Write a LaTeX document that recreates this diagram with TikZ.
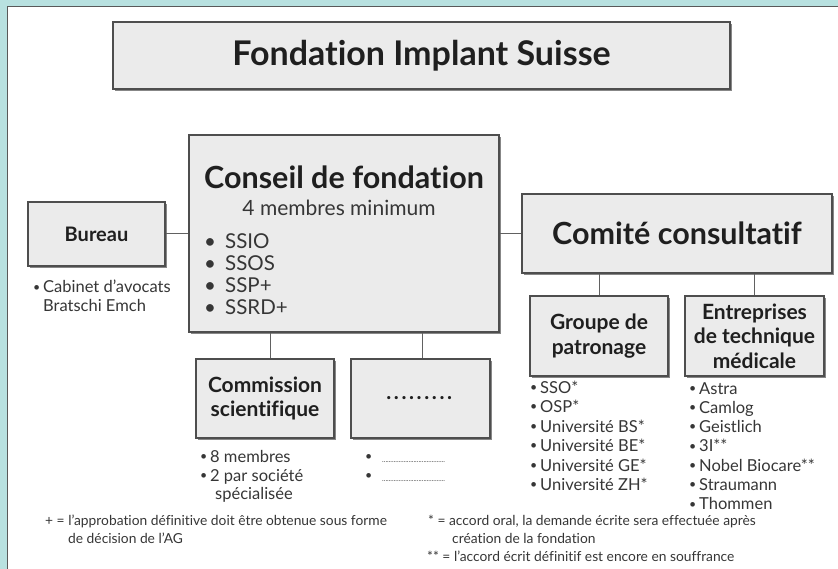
\documentclass[tikz,border=0pt]{standalone}
\usepackage{fontspec}
\setmainfont{Lato}[Ligatures=NoCommon]
\usetikzlibrary{shadows}
\definecolor{frameteal}{HTML}{B8E1E0}
\definecolor{boxgrey}{HTML}{EBEBEB}
\definecolor{edgegrey}{HTML}{4E4E4E}
\definecolor{inkgrey}{HTML}{363636}
\newcommand\lbul{\makebox[10pt][l]{\raisebox{0.2ex}{\scalebox{0.75}{\textbullet}}}}
\newcommand\nobul{\hspace*{10pt}}
\newcommand\dotrow{\foreach\k in {1,...,9}{.\kern2.6pt}}
\begin{document}
\begin{tikzpicture}[x=1pt,y=-1pt,
    orgbox/.style={draw=edgegrey,line width=1.4pt,fill=boxgrey,inner sep=0pt,align=center,text=black!88,
      drop shadow={shadow xshift=1.6pt,shadow yshift=-1.6pt,fill=black!55,opacity=.85}},
    boxhead/.style={font=\bfseries\fontsize{21}{25}\selectfont},
    link/.style={draw=black!62,line width=1pt},
    listline/.style={anchor=base west,inner sep=0pt,text=inkgrey,font=\fontsize{16.5}{19}\selectfont},
    noteline/.style={anchor=base west,inner sep=0pt,text=inkgrey,font=\fontsize{13.8}{16}\selectfont}]
  \useasboundingbox (0,0) rectangle (838,569);
  % frame
  \fill[frameteal] (0,0) rectangle (838,569);
  \fill[white] (7,7) rectangle (838,569);
  \draw[black!65,line width=1pt] (838,7) -- (7,7) -- (7,569);

  % boxes
  \node[orgbox,minimum width=617,minimum height=67,font=\bfseries\fontsize{34}{38}\selectfont] (fis) at (421.5,55.5) {Fondation Implant Suisse};
  \node[orgbox,minimum width=137,minimum height=64,font=\bfseries\fontsize{20}{24}\selectfont] (bureau) at (96.5,234) {Bureau};
  \node[orgbox,minimum width=310,minimum height=197] (conseil) at (344,233.5) {};
  \node[orgbox,minimum width=310,minimum height=79,font=\bfseries\fontsize{30.5}{34}\selectfont] (comite) at (677,233.5) {Comité consultatif};
  \node[orgbox,minimum width=138,minimum height=79,font=\bfseries\fontsize{21}{23.5}\selectfont] (commission) at (265,398.5) {Commission\\scientifique};
  \node[orgbox,boxhead,minimum width=139,minimum height=79] (dotsbox) at (420.5,398.5) {\dotrow};
  \node[orgbox,boxhead,minimum width=138,minimum height=80] (groupe) at (599,336) {Groupe de\\patronage};
  \node[orgbox,boxhead,minimum width=139,minimum height=80,font=\bfseries\fontsize{21}{24.5}\selectfont] (entreprises) at (754.5,336) {Entreprises\\de technique\\médicale};

  % conseil de fondation
  \node[inner sep=0pt,text=black!88,font=\bfseries\fontsize{30.5}{34}\selectfont] (conseilhead) at (344,177) {Conseil de fondation};
  \node[inner sep=0pt,text=inkgrey,font=\fontsize{21}{24}\selectfont] (conseilmin) at (339,208) {4 membres minimum};
  \foreach \t [count=\i from 0] in {SSIO,SSOS,SSP+,SSRD+}
    \node[listline,font=\fontsize{20.5}{22}\selectfont] (membre\i) at (204,{249+22*\i}) {\makebox[21pt][l]{\textbullet}\t};

  % connectors
  \draw[link] (bureau.east) -- (bureau.east -| conseil.west);
  \draw[link] (conseil.east) -- (comite.west);
  \draw[link] (groupe.north) -- (groupe.north |- comite.south);
  \draw[link] (entreprises.north) -- (entreprises.north |- comite.south);
  \draw[link] ([xshift=5pt]commission.north) -- ([xshift=5pt]commission.north |- conseil.south);
  \draw[link] ([xshift=1.5pt]dotsbox.north) -- ([xshift=1.5pt]dotsbox.north |- conseil.south);

  % lists
  \node[listline] (bur0) at (33,293) {\lbul Cabinet d’avocats};
  \node[listline] (bur1) at (33,312) {\nobul Bratschi Emch};
  \node[listline] (com0) at (200,462) {\lbul 8 membres};
  \node[listline] (com1) at (200,481) {\lbul 2 par société};
  \node[listline] (com2) at (200,499) {\hspace*{15pt}spécialisée};
  \foreach \i in {0,1}
    \node[listline] (dot\i) at (365,{462+19*\i}) {\makebox[17pt][l]{\raisebox{0.2ex}{\scalebox{0.75}{\textbullet}}}{\fontsize{7}{8}\selectfont ......................................}};
  \foreach \t [count=\i from 0] in {SSO*,OSP*,Université BS*,Université BE*,Université GE*,Université ZH*}
    \node[listline] (grp\i) at (530,{393+19.5*\i}) {\lbul\t};
  \foreach \t [count=\i from 0] in {Astra,Camlog,Geistlich,3I**,Nobel Biocare**,Straumann,Thommen}
    \node[listline] (ent\i) at (689,{394+19.3*\i}) {\lbul\t};

  % notes
  \node[noteline] (plus0) at (45,525) {+ = l’approbation définitive doit être obtenue sous forme};
  \node[noteline] (plus1) at (68,543) {de décision de l’AG};
  \node[noteline] (star0) at (428,525) {* = accord oral, la demande écrite sera effectuée après};
  \node[noteline] (star1) at (452,543) {création de la fondation};
  \node[noteline] (star2) at (427,561) {** = l’accord écrit définitif est encore en souffrance};
\end{tikzpicture}
\end{document}
